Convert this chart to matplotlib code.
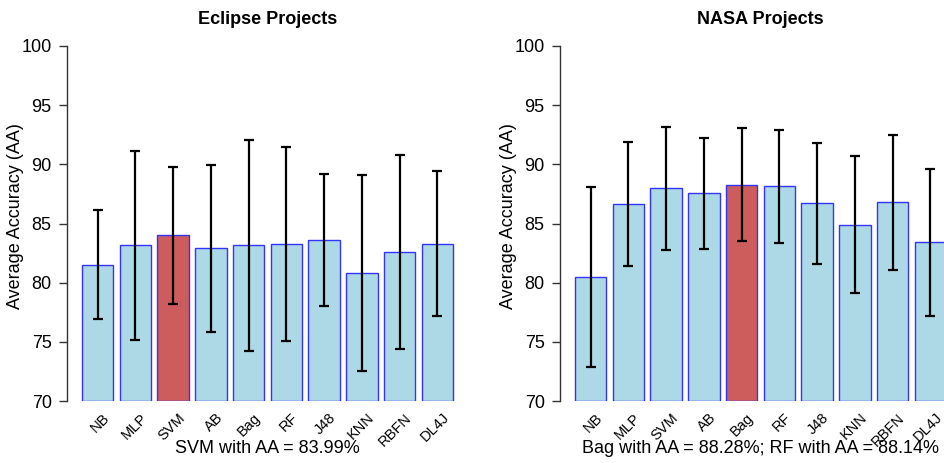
import matplotlib
matplotlib.use("Agg")
import matplotlib.pyplot as plt
import numpy as np

plt.rcParams['font.family'] = ['Liberation Sans', 'DejaVu Sans']

classifiers = ["NB", "MLP", "SVM", "AB", "Bag", "RF", "J48", "KNN", "RBFN", "DL4J"]

eclipse_mean = [81.5, 83.15, 83.99, 82.9, 83.15, 83.3, 83.6, 80.8, 82.6, 83.3]
eclipse_sd = [4.6, 8.0, 5.8, 7.05, 8.9, 8.2, 5.6, 8.3, 8.2, 6.1]

nasa_mean = [80.45, 86.65, 87.98, 87.56, 88.28, 88.14, 86.7, 84.9, 86.8, 83.4]
nasa_sd = [7.6, 5.2, 5.2, 4.7, 4.75, 4.8, 5.1, 5.8, 5.7, 6.2]

eclipse_best = ["SVM"]
nasa_best = ["Bag"]

titles = ["Eclipse Projects", "NASA Projects"]
subtitles = ["SVM with AA = 83.99%", "Bag with AA = 88.28%; RF with AA = 88.14%"]
yticks = [70, 75, 80, 85, 90, 95, 100]

fig = plt.figure(figsize=(9.44, 4.63), dpi=100)
W, H = 944, 463
BASE = 70

def make_panel(left_px, means, sds, best, title, subtitle):
    ax = fig.add_axes([left_px / W, (H - 401) / H, 401 / W, 355 / H])
    n = len(means)
    centers = 0.2 + np.arange(n) * 1.2 + 0.5
    colors = ["#CD5C5C" if c in best else "#ADD8E6" for c in classifiers]
    heights = [m - BASE for m in means]
    ax.bar(centers, heights, width=1.0, bottom=BASE, color=colors,
           edgecolor="#3333FF", linewidth=1.0, zorder=2)
    ax.errorbar(centers, means, yerr=sds, fmt="none", ecolor="black",
                elinewidth=1.6, capsize=3.5, capthick=1.6, zorder=3)
    ax.set_xlim(-0.272, 12.472)
    ax.set_ylim(70, 100)
    for s in ["top", "right", "bottom"]:
        ax.spines[s].set_visible(False)
    ax.spines["left"].set_color("#333333")
    ax.spines["left"].set_linewidth(1.0)
    ax.set_yticks(yticks)
    ax.set_yticklabels([str(v) for v in yticks], fontsize=13)
    ax.tick_params(axis="y", length=6, width=1, color="#333333", pad=5)
    ax.set_xticks([])
    ax.set_ylabel("Average Accuracy (AA)", fontsize=13)
    ax.yaxis.set_label_coords(-0.108, 0.52)
    ax.set_title(title, fontsize=13, fontweight="bold", pad=16)
    for x, lab in zip(centers, classifiers):
        ax.text(x + 0.15, 69.2, lab, rotation=45, ha="right", va="top",
                rotation_mode="anchor", fontsize=10.5, clip_on=False)
    ax.text((ax.get_xlim()[0] + ax.get_xlim()[1]) / 2, 66.0, subtitle,
            ha="center", va="center", fontsize=13, clip_on=False)
    return ax

make_panel(67, eclipse_mean, eclipse_sd, eclipse_best, titles[0], subtitles[0])
make_panel(560, nasa_mean, nasa_sd, nasa_best, titles[1], subtitles[1])

fig.savefig("out.png", dpi=100)
